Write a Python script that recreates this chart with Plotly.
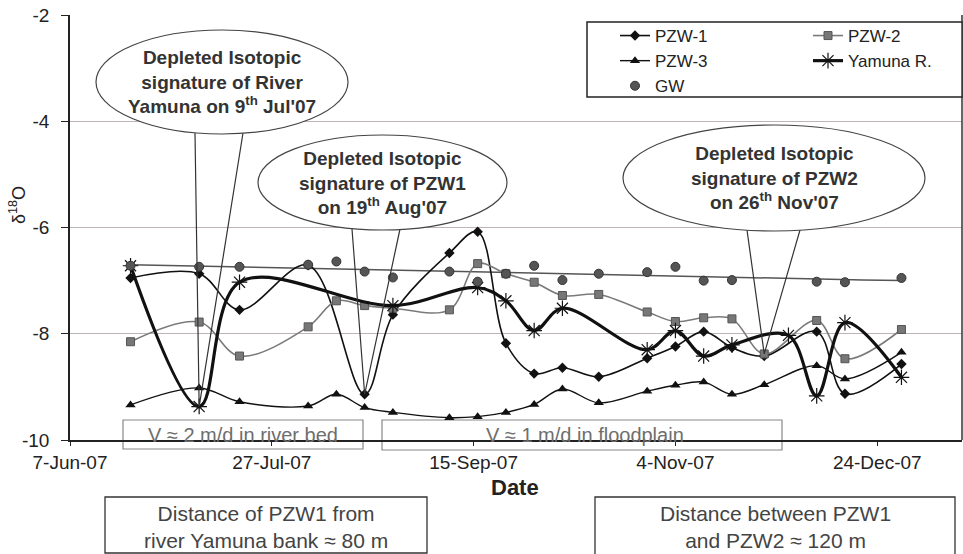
import numpy as np
import pandas as pd
import plotly.graph_objects as go

# Sampling dates (2007) and delta-18O values per well / river
dates = ['2007-06-22', '2007-07-09', '2007-07-19', '2007-08-05', '2007-08-12',
         '2007-08-19', '2007-08-26', '2007-09-09', '2007-09-16', '2007-09-23',
         '2007-09-30', '2007-10-07', '2007-10-16', '2007-10-28', '2007-11-04',
         '2007-11-11', '2007-11-18', '2007-11-26', '2007-12-02', '2007-12-09',
         '2007-12-16', '2007-12-30']

pzw1 = [-6.95, -6.87, -7.55, -6.71, None, -9.14, -7.64, -6.48, -6.08, -8.18,
        -8.75, -8.64, -8.81, -8.46, -8.24, -7.96, -8.26, -8.42, None, -7.96,
        -9.13, -8.57]
pzw2 = [-8.15, -7.78, -8.42, -7.87, -7.38, -7.47, -7.52, -7.55, -6.68, -6.87,
        -7.03, -7.28, -7.26, -7.59, -7.77, -7.70, -7.72, -8.38, None, -7.75,
        -8.47, -7.92]
pzw3 = [-9.34, -9.02, -9.28, -9.36, -9.14, -9.39, -9.48, -9.58, -9.56, -9.48,
        -9.33, -9.04, -9.30, -9.08, -8.97, -8.91, -9.14, -8.96, None, -8.60,
        -8.85, -8.35]
yamuna = [-6.72, -9.37, -7.03, None, None, None, -7.47, None, -7.13, -7.38,
          -7.94, -7.52, None, -8.30, -7.94, -8.42, -8.21, None, -8.03, -9.17,
          -7.79, -8.82]
gw = [-6.72, -6.74, -6.74, -6.70, -6.64, -6.83, -6.94, -6.83, -7.02, -6.87,
      -6.72, -6.99, -6.87, -6.84, -6.74, -7.00, -6.99, None, None, -7.02,
      -7.03, -6.95]

x_tick_start = '2007-06-07'
x_range = ['2007-06-07', '2008-01-14']
y_ticks = [-10, -8, -6, -4, -2]
y_tick_text = ['-10', '-8', '-6', '-4', '-2']

FONT = 'Arial, Liberation Sans, sans-serif'
W, H = 963, 554
L, R, T, B = 70, 962, 15, 440


def px(x):
    return (x - L) / (R - L)


def py(y):
    return (B - y) / (B - T)


t0 = pd.Timestamp(x_range[0])
span_days = (pd.Timestamp(x_range[1]) - t0).days


def data_to_paper(date, value):
    d = (pd.Timestamp(date) - t0).days
    return d / span_days, (value - y_ticks[0]) / (y_ticks[-1] - y_ticks[0])


def label(x, y, text, size, color, bold=False, angle=0):
    return dict(xref='paper', yref='paper', x=px(x), y=py(y), text=text,
                showarrow=False, xanchor='center', yanchor='middle',
                textangle=angle,
                font=dict(family=FONT, size=size, color=color,
                          weight='bold' if bold else 'normal'))


fig = go.Figure()

# groundwater trend line fitted to the GW samples
gw_d = [(pd.Timestamp(d) - t0).days for d, v in zip(dates, gw) if v is not None]
gw_v = [v for v in gw if v is not None]
coef = np.polyfit(gw_d, gw_v, 3)
fit_d = np.linspace(min(gw_d), max(gw_d), 80)
fig.add_trace(go.Scatter(
    x=[t0 + pd.Timedelta(days=float(d)) for d in fit_d], y=np.polyval(coef, fit_d),
    mode='lines', line=dict(color='#555555', width=1.5), showlegend=False,
    hoverinfo='skip'))

common = dict(mode='lines+markers', connectgaps=True)
fig.add_trace(go.Scatter(
    x=dates, y=pzw1, name='PZW-1', legend='legend',
    line=dict(color='#111111', width=1.6, shape='spline'),
    marker=dict(symbol='diamond', size=8, color='#111111'), **common))
fig.add_trace(go.Scatter(
    x=dates, y=pzw2, name='PZW-2', legend='legend2',
    line=dict(color='#7a7a7a', width=1.6, shape='spline'),
    marker=dict(symbol='square', size=8, color='#777777',
                line=dict(color='#555555', width=1)), **common))
fig.add_trace(go.Scatter(
    x=dates, y=pzw3, name='PZW-3', legend='legend',
    line=dict(color='#111111', width=1.4, shape='spline'),
    marker=dict(symbol='triangle-up', size=9, color='#111111'), **common))
fig.add_trace(go.Scatter(
    x=dates, y=yamuna, name='Yamuna R.', legend='legend2',
    line=dict(color='#111111', width=3.2, shape='spline'),
    marker=dict(symbol='asterisk-open', size=13,
                line=dict(color='#777777', width=1.2)), **common))
fig.add_trace(go.Scatter(
    x=dates, y=gw, name='GW', legend='legend', mode='markers',
    marker=dict(symbol='circle', size=9, color='#555555',
                line=dict(color='#333333', width=1))))

shapes = []
annotations = []

# legend frame
shapes.append(dict(type='rect', xref='paper', yref='paper',
                   x0=px(587), x1=px(963), y0=py(97), y1=py(22),
                   line=dict(color='#222222', width=1.5), fillcolor='white',
                   layer='below'))
# right frame line of plot area
shapes.append(dict(type='line', xref='paper', yref='paper', x0=1, x1=1,
                   y0=0, y1=1, line=dict(color='#333333', width=1.5)))

# callouts: ellipse bounds (px), wedge base (px), target point (data), text
callouts = [
    ((96, 348, 30, 134), (195, 243, 133), (dates[1], yamuna[1]),
     "Depleted Isotopic<br>signature of River<br>Yamuna on 9<sup>th</sup> Jul'07"),
    ((258, 507, 135, 230), (352, 400, 229), (dates[5], pzw1[5]),
     "Depleted Isotopic<br>signature of PZW1<br>on 19<sup>th</sup> Aug'07"),
    ((623, 925, 125, 231), (747, 800, 230), (dates[17], pzw2[17]),
     "Depleted Isotopic<br>signature of PZW2<br>on 26<sup>th</sup> Nov'07"),
]
for (ex0, ex1, ey0, ey1), (bx0, bx1, by), (td, tv), txt in callouts:
    tx, ty = data_to_paper(td, tv)
    shapes.append(dict(type='path', xref='paper', yref='paper',
                       path=f'M {px(bx0)},{py(by)} L {tx},{ty} L {px(bx1)},{py(by)}',
                       line=dict(color='#333333', width=1.2), layer='above'))
    shapes.append(dict(type='circle', xref='paper', yref='paper',
                       x0=px(ex0), x1=px(ex1), y0=py(ey1), y1=py(ey0),
                       line=dict(color='#444444', width=1.2), fillcolor='white',
                       layer='above'))
    annotations.append(label((ex0 + ex1) / 2, (ey0 + ey1) / 2, txt, 19,
                             '#333333', bold=True))

# velocity boxes on the date axis
vel_boxes = [((123, 363, 420, 449), 243, 'V ≈ 2 m/d in river bed'),
             ((382, 782, 420, 450), 585, 'V ≈ 1 m/d in floodplain')]
for (x0, x1, y0, y1), cx, txt in vel_boxes:
    shapes.append(dict(type='rect', xref='paper', yref='paper',
                       x0=px(x0), x1=px(x1), y0=py(y1), y1=py(y0),
                       line=dict(color='#888888', width=1.2), layer='below'))
    annotations.append(label(cx, 435, txt, 20, '#6e6e6e'))

# distance boxes below the chart
dist_boxes = [((105, 427, 497, 553), 266, 'Distance of PZW1 from<br>river Yamuna bank ≈ 80 m'),
              ((595, 955, 497, 560), 775, 'Distance between PZW1<br>and PZW2 ≈ 120 m')]
for (x0, x1, y0, y1), cx, txt in dist_boxes:
    shapes.append(dict(type='rect', xref='paper', yref='paper',
                       x0=px(x0), x1=px(x1), y0=py(y1), y1=py(y0),
                       line=dict(color='#333333', width=1.3)))
    annotations.append(label(cx, 527, txt, 21, '#444444'))

# axis titles
annotations.append(label(515, 487, 'Date', 22, '#222222', bold=True))
annotations.append(label(18, 205, 'δ<sup>18</sup>O', 18, '#222222', angle=-90))

fig.update_layout(
    width=W, height=H,
    margin=dict(l=L, r=W - R, t=T, b=H - B, pad=0),
    paper_bgcolor='white', plot_bgcolor='white',
    font=dict(family=FONT, color='#222222'),
    xaxis=dict(type='date', range=x_range, tick0=x_tick_start,
               dtick=50 * 86400000, tickformat='%-d-%b-%y',
               showgrid=False, showline=True, linecolor='#222222', linewidth=1.5,
               ticks='outside', ticklen=4, tickcolor='#222222',
               tickfont=dict(family=FONT, size=19, color='#222222'),
               zeroline=False),
    yaxis=dict(range=[-10, -2], tickvals=y_ticks, ticktext=y_tick_text,
               showgrid=True, gridcolor='#bdb5b5', gridwidth=1,
               showline=True, linecolor='#222222', linewidth=1.5,
               ticks='outside', ticklen=7, tickcolor='#222222',
               ticklabelstandoff=8,
               tickfont=dict(family=FONT, size=19, color='#222222'),
               zeroline=False),
    legend=dict(x=px(615), y=py(18), xanchor='left', yanchor='top',
                bgcolor='rgba(0,0,0,0)', borderwidth=0, itemwidth=30,
                font=dict(family=FONT, size=17, color='#222222'),
                tracegroupgap=0),
    legend2=dict(x=px(808), y=py(18), xanchor='left', yanchor='top',
                 bgcolor='rgba(0,0,0,0)', borderwidth=0, itemwidth=30,
                 font=dict(family=FONT, size=17, color='#222222'),
                 tracegroupgap=0),
    shapes=shapes,
    annotations=annotations,
)

fig.write_html('out.html')
